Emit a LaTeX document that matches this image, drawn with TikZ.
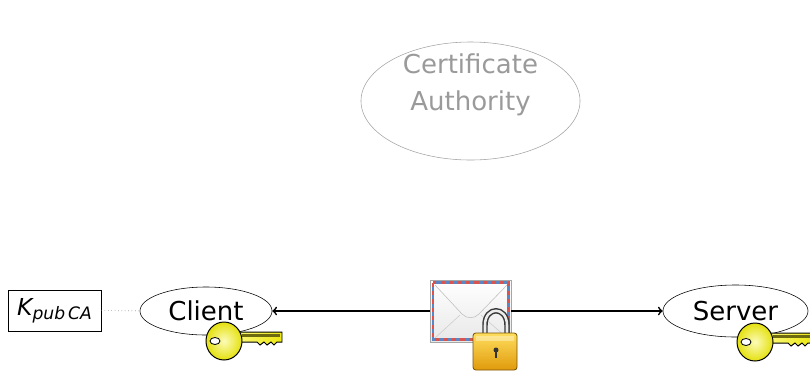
\documentclass[tikz,border=0pt]{standalone}
\usepackage{fontspec}
\setmainfont{DejaVu Sans}
\usetikzlibrary{shapes.geometric}

\definecolor{cagray}{HTML}{9A9A9A}
\definecolor{keyyellow}{HTML}{F8F410}
\definecolor{keyolive}{HTML}{6E6A10}
\definecolor{lockgold}{HTML}{FFD635}
\definecolor{lockdark}{HTML}{E09A0C}
\definecolor{airred}{HTML}{D9534F}
\definecolor{airblue}{HTML}{5B86C4}

\tikzset{
  party/.style={ellipse, draw, thin, inner sep=0pt,
    font=\fontsize{18.5}{22}\selectfont},
  keybody/.style={draw=black, line width=0.7pt, left color=keyyellow!55!white,
    right color=keyyellow!95!black},
  % a yellow key, bow centred on the origin
  key/.pic={
    \draw[keybody] (12,-9) -- (58,-9) -- (58,1) -- (53,1) -- (50,4) -- (47,1)
      -- (43,4) -- (40,1) -- (36,4) -- (33,1) -- (12,1) -- cycle;
    \fill[keyolive] (18,-7) rectangle (56,-4);
    \draw[draw=black, line width=0.7pt, inner color=keyyellow!30!white,
      outer color=keyyellow!92!black] (0,0) ellipse (18 and 19);
    \draw[fill=white, line width=0.6pt] (-9,0) ellipse (5 and 3.5);
  }
}

\begin{document}
\begin{tikzpicture}[x=0.025cm, y=-0.025cm]
\useasboundingbox (0,0) rectangle (810,371);

\node[party, draw=cagray!90, minimum width=5.475cm, minimum height=2.95cm,
  label={[text=cagray, align=center, font=\fontsize{18.5}{26}\selectfont,
    yshift=0.41cm]center:{Certificate\\Authority}}] (ca) at (470.5,101) {};

\node[party, minimum width=3.3cm, minimum height=1.2cm] (client) at (206,311) {Client};
\node[party, minimum width=3.625cm, minimum height=1.3cm] (server) at (735.5,311) {Server};

\node[draw, thin, minimum width=2.325cm, minimum height=1.025cm, inner sep=0pt,
  font=\fontsize{16.6}{20}\selectfont\itshape] (kpub) at (54.5,310.5)
  {K\raisebox{-3pt}{\fontsize{12.2}{15}\selectfont pub\,CA}};
\draw[dotted, gray!80!black] (kpub) -- (client);

% envelope carrying the message
\node[draw=gray!70, top color=white, bottom color=gray!18, inner sep=0pt,
  minimum width=2.025cm, minimum height=1.55cm] (mail) at (470.5,311) {};
\draw[->, line width=1.2pt] (mail) -- (client);
\draw[->, line width=1.2pt] (mail) -- (server);

\draw[airred, line width=1.6pt, dash pattern=on 3pt off 3pt]
  (433,282.5) rectangle (508.5,339.5);
\draw[airblue, line width=1.6pt, dash pattern=on 3pt off 3pt, dash phase=3pt]
  (433,282.5) rectangle (508.5,339.5);
\draw[gray!50] (435,285) -- (462,314) .. controls (467,319) and (474,319) .. (479,314)
  -- (507,285);
\draw[gray!40] (435,338) -- (460,315);
\draw[gray!40] (507,338) -- (481,315);

% padlock
\draw[line width=3.9pt, gray!45!black, line cap=round]
  (485,334) -- (485,325) .. controls (485,306) and (507,306) .. (507,325) -- (507,334);
\draw[line width=1.8pt, gray!15]
  (485,334) -- (485,325) .. controls (485,306) and (507,306) .. (507,325) -- (507,334);
\draw[draw=lockdark!55!black, rounded corners=2pt, top color=lockgold!80!white,
  bottom color=lockdark, line width=0.6pt] (473,333) rectangle (517,370);
\fill[white, opacity=0.35] (476,336) rectangle (514,341);
\fill[black!80] (496,350) circle (2.5);
\fill[black!80] (495,350) rectangle (497,358);

\pic at (224,341) {key};
\pic at (755,342) {key};

\end{tikzpicture}
\end{document}
